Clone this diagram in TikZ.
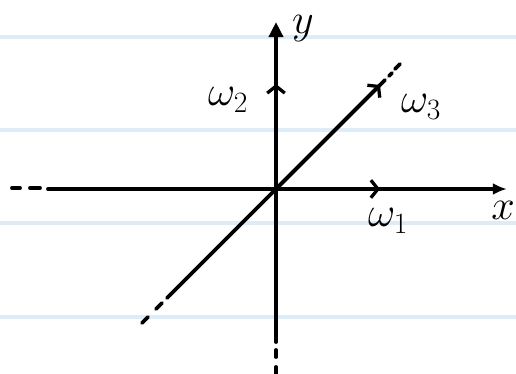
\RequirePackage{fix-cm}
\documentclass[tikz,border=0pt]{standalone}
\usepackage{amsmath}
\definecolor{ruleblue}{RGB}{222,236,247}
\usetikzlibrary{arrows.meta,positioning}

\begin{document}
\begin{tikzpicture}[
  x=0.03cm,y=0.03cm,
  every node/.style={font=\fontsize{36}{44}\selectfont},
  ruled/.style={line width=2.6pt,ruleblue},
  axis/.style={line width=3.3pt,line cap=round},
  dashend/.style={line width=3.3pt,line cap=round},
  vec/.style={line width=3.3pt,-{Straight Barb[length=6pt,width=15pt,line width=2.8pt]}},
]
  \useasboundingbox (0,0) rectangle (516,374);

  % ruled paper
  \foreach \yy in {337,244,151,57}
    \draw[ruled] (0,\yy) -- (516,\yy);

  % origin and axis ends
  \coordinate (O)     at (276,185);
  \coordinate (ytop)  at (276,352);
  \coordinate (ybot)  at (276,32);
  \coordinate (xleft) at (48,185);
  \coordinate (xend)  at (507,185);
  \coordinate (dlow)  at (167,76);
  \coordinate (dhigh) at (385,294);

  % vector tips
  \coordinate (e1) at (380,185);
  \coordinate (e2) at (276,290);
  \coordinate (e3) at (380,289);

  % axes
  \draw[axis,-{Latex[length=12pt,width=10pt]}] (O) -- (xend);
  \draw[axis] (O) -- (xleft);
  \draw[axis,-{Triangle[length=13pt,width=12pt]}] (O) -- (ytop);
  \draw[axis] (O) -- (ybot);
  \draw[axis] (dlow) -- (dhigh);

  % dashed continuations
  \draw[dashend] (12,186) -- (20,186) (30,186) -- (40,186);
  \draw[dashend] (276,24) -- (276,17) (276,7) -- (276,0);
  \draw[dashend] (162,71) -- (156,65) (148,57) -- (142,51);
  \draw[dashend] (389,298) -- (392,301) (395,305) -- (400,310);

  % vectors
  \draw[vec] (O) -- (e1);
  \draw[vec] (O) -- (e2);
  \draw[vec] (O) -- (e3);

  % labels
  \node (xlab)  at (503,164) {$x$};
  \node (ylab)  at (303,345) {$y$};
  \node (w1lab) at (388,153) {$\omega_1$};
  \node (w2lab) at (228,274) {$\omega_2$};
  \node (w3lab) at (421,267) {$\omega_3$};
\end{tikzpicture}
\end{document}
